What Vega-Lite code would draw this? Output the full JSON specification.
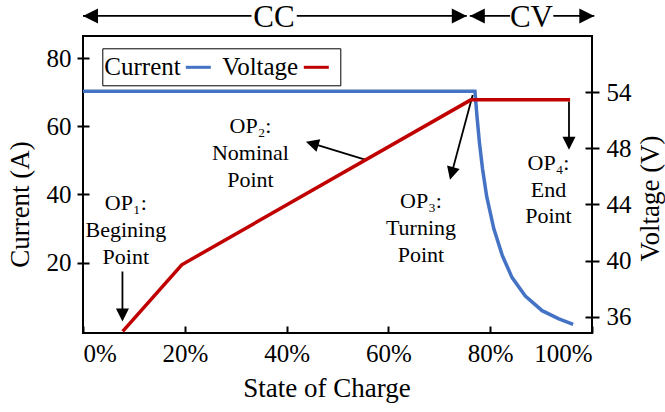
{
  "$schema": "https://vega.github.io/schema/vega-lite/v6.json",
  "width": 509,
  "height": 297,
  "autosize": "none",
  "padding": {"left": 83, "top": 36, "right": 73, "bottom": 79},
  "config": {
    "view": {"stroke": "black", "strokeWidth": 2},
    "font": "Liberation Serif",
    "style": {
      "guide-label": {"font": "Liberation Serif"},
      "guide-title": {"font": "Liberation Serif"}
    },
    "legend": {"labelFont": "Liberation Serif", "titleFont": "Liberation Serif"},
    "axis": {
      "labelFont": "Liberation Serif", "titleFont": "Liberation Serif",
      "labelFontSize": 25, "titleFontSize": 27, "titleFontWeight": "normal",
      "labelColor": "black", "titleColor": "black", "tickColor": "black",
      "tickWidth": 2, "grid": false, "domain": false
    }
  },
  "datasets": {
    "current": [
      {"soc": 0, "val": 70.3, "series": "Current"},
      {"soc": 77.0, "val": 70.3, "series": "Current"},
      {"soc": 77.4, "val": 63.0, "series": "Current"},
      {"soc": 77.9, "val": 55.0, "series": "Current"},
      {"soc": 78.5, "val": 47.5, "series": "Current"},
      {"soc": 79.3, "val": 39.5, "series": "Current"},
      {"soc": 80.7, "val": 30.0, "series": "Current"},
      {"soc": 82.4, "val": 22.0, "series": "Current"},
      {"soc": 84.3, "val": 15.6, "series": "Current"},
      {"soc": 86.9, "val": 10.2, "series": "Current"},
      {"soc": 90.2, "val": 5.9, "series": "Current"},
      {"soc": 93.5, "val": 3.5, "series": "Current"},
      {"soc": 96.3, "val": 1.9, "series": "Current"}
    ],
    "voltage": [
      {"soc": 7.8, "val": 34.95, "series": "Voltage"},
      {"soc": 19.4, "val": 39.7, "series": "Voltage"},
      {"soc": 76.2, "val": 51.45, "series": "Voltage"},
      {"soc": 95.7, "val": 51.45, "series": "Voltage"}
    ],
    "segs": [
      {"soc": 0, "amp": 92.4, "soc2": 33.1, "amp2": 92.4},
      {"soc": 42.0, "amp": 92.4, "soc2": 75.4, "amp2": 92.4},
      {"soc": 76.0, "amp": 92.4, "soc2": 83.9, "amp2": 92.4},
      {"soc": 92.4, "amp": 92.4, "soc2": 100.45, "amp2": 92.4},
      {"soc": 7.75, "amp": 17.4, "soc2": 7.75, "amp2": 4.0},
      {"soc": 55.74, "amp": 50.1, "soc2": 44.5, "amp2": 55.2},
      {"soc": 76.56, "amp": 69.2, "soc2": 72.3, "amp2": 45.5},
      {"soc": 95.48, "amp": 67.3, "soc2": 95.48, "amp2": 54.5}
    ],
    "heads": [
      {"soc": 0, "amp": 92.4, "dir": "left"},
      {"soc": 75.4, "amp": 92.4, "dir": "right"},
      {"soc": 76.0, "amp": 92.4, "dir": "left"},
      {"soc": 100.45, "amp": 92.4, "dir": "right"},
      {"soc": 7.75, "amp": 2.71, "dir": "down"},
      {"soc": 43.8, "amp": 55.5, "dir": "op2"},
      {"soc": 72.1, "amp": 44.3, "dir": "op3"},
      {"soc": 95.48, "amp": 53.1, "dir": "down"}
    ],
    "notes": [
      {"soc": 8.41, "amp": 35.3, "label": "OP₁:\nBegining\nPoint"},
      {"soc": 32.9, "amp": 57.95, "label": "OP₂:\nNominal\nPoint"},
      {"soc": 66.4, "amp": 35.9, "label": "OP₃:\nTurning\nPoint"},
      {"soc": 91.45, "amp": 47.2, "label": "OP₄:\nEnd\nPoint"}
    ],
    "phases": [
      {"soc": 37.5, "amp": 89.05, "label": "CC"},
      {"soc": 88.1, "amp": 89.05, "label": "CV"}
    ]
  },
  "layer": [
    {
      "layer": [
        {
          "data": {"name": "current"},
          "mark": {"type": "line", "strokeWidth": 3.5},
          "encoding": {
            "x": {"field": "soc", "type": "quantitative", "scale": {"domain": [0, 100], "nice": false},
              "axis": {"values": [0, 20, 40, 60, 80, 100], "labelExpr": "datum.value + '%'", "title": "State of Charge",
                "labelFont": "Liberation Serif", "titleFont": "Liberation Serif",
                "offset": -7, "tickSize": 7, "labelPadding": 8, "labelDx": 9,
                "titleX": 243.4, "titleY": 70, "titleBaseline": "alphabetic"}},
            "y": {"field": "val", "type": "quantitative", "scale": {"domain": [-0.65, 86.5], "nice": false, "zero": false},
              "axis": {"values": [20, 40, 60, 80], "title": "Current (A)", "offset": -6, "tickSize": 12, "labelPadding": 6,
                "labelFont": "Liberation Serif", "titleFont": "Liberation Serif",
                "titleX": -61, "titleY": 168, "titleBaseline": "alphabetic", "titleAngle": -90}},
            "color": {"field": "series", "type": "nominal",
              "scale": {"domain": ["Current", "Voltage"], "range": ["#4472C4", "#C00000"]},
              "legend": {"orient": "none", "legendX": 19.3, "legendY": 12.3, "direction": "horizontal", "title": null,
                "symbolType": "stroke", "symbolStrokeWidth": 3, "symbolSize": 625,
                "labelFont": "Liberation Serif", "labelFontSize": 25, "labelColor": "black",
                "strokeColor": "black", "padding": 5, "columnPadding": 5,
                "labelAlign": "left", "labelOffset": -108, "symbolOffset": 77}}
          }
        },
        {
          "data": {"name": "segs"},
          "mark": {"type": "rule", "color": "black", "strokeWidth": 1.8},
          "encoding": {
            "x": {"field": "soc", "type": "quantitative", "scale": {"domain": [0, 100], "nice": false}},
            "y": {"field": "amp", "type": "quantitative", "scale": {"domain": [-0.65, 86.5], "nice": false, "zero": false}},
            "x2": {"field": "soc2"},
            "y2": {"field": "amp2"}
          }
        },
        {
          "data": {"name": "heads"},
          "transform": [{"filter": "datum.dir == 'right'"}],
          "mark": {"type": "point", "shape": "M0,0L-1,-0.5L-1,0.5Z", "filled": true, "color": "black", "opacity": 1, "size": 900, "strokeWidth": 0, "angle": 0},
          "encoding": {
            "x": {"field": "soc", "type": "quantitative", "scale": {"domain": [0, 100], "nice": false}},
            "y": {"field": "amp", "type": "quantitative", "scale": {"domain": [-0.65, 86.5], "nice": false, "zero": false}}
          }
        },
        {
          "data": {"name": "heads"},
          "transform": [{"filter": "datum.dir == 'left'"}],
          "mark": {"type": "point", "shape": "M0,0L-1,-0.5L-1,0.5Z", "filled": true, "color": "black", "opacity": 1, "size": 900, "strokeWidth": 0, "angle": 180},
          "encoding": {
            "x": {"field": "soc", "type": "quantitative", "scale": {"domain": [0, 100], "nice": false}},
            "y": {"field": "amp", "type": "quantitative", "scale": {"domain": [-0.65, 86.5], "nice": false, "zero": false}}
          }
        },
        {
          "data": {"name": "heads"},
          "transform": [{"filter": "datum.dir == 'down'"}],
          "mark": {"type": "point", "shape": "M0,0L-1,-0.5L-1,0.5Z", "filled": true, "color": "black", "opacity": 1, "size": 676, "strokeWidth": 0, "angle": 90},
          "encoding": {
            "x": {"field": "soc", "type": "quantitative", "scale": {"domain": [0, 100], "nice": false}},
            "y": {"field": "amp", "type": "quantitative", "scale": {"domain": [-0.65, 86.5], "nice": false, "zero": false}}
          }
        },
        {
          "data": {"name": "heads"},
          "transform": [{"filter": "datum.dir == 'op2'"}],
          "mark": {"type": "point", "shape": "M0,0L-1,-0.5L-1,0.5Z", "filled": true, "color": "black", "opacity": 1, "size": 676, "strokeWidth": 0, "angle": 196.8},
          "encoding": {
            "x": {"field": "soc", "type": "quantitative", "scale": {"domain": [0, 100], "nice": false}},
            "y": {"field": "amp", "type": "quantitative", "scale": {"domain": [-0.65, 86.5], "nice": false, "zero": false}}
          }
        },
        {
          "data": {"name": "heads"},
          "transform": [{"filter": "datum.dir == 'op3'"}],
          "mark": {"type": "point", "shape": "M0,0L-1,-0.5L-1,0.5Z", "filled": true, "color": "black", "opacity": 1, "size": 676, "strokeWidth": 0, "angle": 105},
          "encoding": {
            "x": {"field": "soc", "type": "quantitative", "scale": {"domain": [0, 100], "nice": false}},
            "y": {"field": "amp", "type": "quantitative", "scale": {"domain": [-0.65, 86.5], "nice": false, "zero": false}}
          }
        },
        {
          "data": {"name": "notes"},
          "mark": {"type": "text", "font": "Liberation Serif", "fontSize": 22, "lineBreak": "\n", "lineHeight": 26.7, "align": "center", "baseline": "alphabetic", "color": "black"},
          "encoding": {
            "x": {"field": "soc", "type": "quantitative", "scale": {"domain": [0, 100], "nice": false}},
            "y": {"field": "amp", "type": "quantitative", "scale": {"domain": [-0.65, 86.5], "nice": false, "zero": false}},
            "text": {"field": "label"}
          }
        },
        {
          "data": {"name": "phases"},
          "mark": {"type": "text", "font": "Liberation Serif", "fontSize": 31, "align": "center", "baseline": "alphabetic", "color": "black"},
          "encoding": {
            "x": {"field": "soc", "type": "quantitative", "scale": {"domain": [0, 100], "nice": false}},
            "y": {"field": "amp", "type": "quantitative", "scale": {"domain": [-0.65, 86.5], "nice": false, "zero": false}},
            "text": {"field": "label"}
          }
        }
      ]
    },
    {
      "data": {"name": "voltage"},
      "mark": {"type": "line", "strokeWidth": 3.5},
      "encoding": {
        "x": {"field": "soc", "type": "quantitative", "scale": {"domain": [0, 100], "nice": false}},
        "y": {"field": "val", "type": "quantitative", "scale": {"domain": [34.84, 56.0], "nice": false, "zero": false},
          "axis": {"orient": "right", "values": [36, 40, 44, 48, 52], "labelExpr": "datum.value == 52 ? '54' : datum.value",
            "labelFont": "Liberation Serif", "titleFont": "Liberation Serif",
            "title": "Voltage (V)", "offset": -7, "tickSize": 14, "labelPadding": 7,
            "titleX": 73, "titleY": 162, "titleAngle": -90, "titleBaseline": "alphabetic"}},
        "color": {"field": "series", "type": "nominal"}
      }
    }
  ],
  "resolve": {"scale": {"y": "independent"}}
}
